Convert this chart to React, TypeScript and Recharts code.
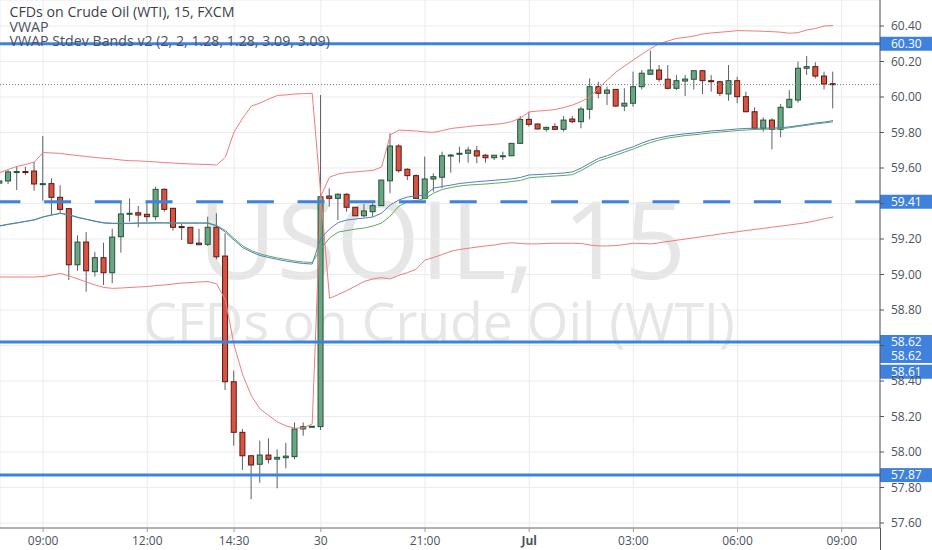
import React from 'react';
import { ComposedChart, Bar, Line, XAxis, YAxis, CartesianGrid, ReferenceLine } from 'recharts';

// 15-minute candles (index 0 .. 96)
const opens = [
  59.515, 59.527, 59.578, 59.580, 59.583, 59.512, 59.512, 59.435, 59.371, 59.055,
  59.183, 59.016, 59.095, 59.010, 59.213, 59.343, 59.348, 59.339, 59.326, 59.480,
  59.373, 59.270, 59.266, 59.177, 59.170, 59.266, 59.104, 58.396, 58.111, 57.979,
  57.931, 57.983, 57.960, 57.968, 57.974, 58.130, 58.144, 58.143, 59.442, 59.429,
  59.452, 59.379, 59.331, 59.354, 59.388, 59.528, 59.724, 59.593, 59.557, 59.429,
  59.538, 59.548, 59.672, 59.681, 59.683, 59.697, 59.672, 59.658, 59.667, 59.669,
  59.739, 59.874, 59.848, 59.818, 59.833, 59.818, 59.876, 59.861, 59.931, 60.058,
  60.021, 60.043, 59.949, 59.965, 60.058, 60.128, 60.152, 60.100, 60.049, 60.090,
  60.100, 60.148, 60.092, 60.086, 60.017, 60.092, 60.002, 59.917, 59.824, 59.870,
  59.818, 59.942, 59.983, 60.162, 60.171, 60.118, 60.075,
];
const highs = [
  59.533, 59.589, 59.607, 59.607, 59.635, 59.780, 59.542, 59.503, 59.373, 59.221,
  59.239, 59.127, 59.179, 59.258, 59.410, 59.429, 59.386, 59.414, 59.495, 59.486,
  59.375, 59.285, 59.268, 59.258, 59.326, 59.345, 59.232, 58.458, 58.130, 57.981,
  58.064, 58.077, 58.015, 58.052, 58.167, 58.167, 58.147, 60.011, 59.486, 59.458,
  59.458, 59.380, 59.397, 59.401, 59.534, 59.796, 59.734, 59.598, 59.565, 59.664,
  59.570, 59.692, 59.679, 59.720, 59.720, 59.724, 59.679, 59.673, 59.692, 59.741,
  59.893, 59.917, 59.850, 59.833, 59.852, 59.893, 59.893, 59.945, 60.105, 60.086,
  60.058, 60.044, 60.049, 60.143, 60.152, 60.261, 60.180, 60.180, 60.124, 60.124,
  60.152, 60.152, 60.124, 60.092, 60.180, 60.114, 60.030, 59.942, 59.886, 59.880,
  59.961, 60.039, 60.199, 60.231, 60.196, 60.143, 60.143,
];
const lows = [
  59.510, 59.510, 59.476, 59.561, 59.472, 59.416, 59.335, 59.341, 58.969, 59.021,
  58.903, 58.988, 58.941, 58.951, 59.123, 59.297, 59.266, 59.297, 59.307, 59.354,
  59.247, 59.194, 59.172, 59.165, 59.161, 59.086, 58.349, 58.036, 57.899, 57.734,
  57.827, 57.936, 57.796, 57.908, 57.959, 58.092, 58.141, 58.124, 59.382, 59.307,
  59.354, 59.329, 59.322, 59.326, 59.386, 59.458, 59.574, 59.532, 59.425, 59.424,
  59.467, 59.486, 59.574, 59.630, 59.630, 59.627, 59.630, 59.645, 59.645, 59.667,
  59.735, 59.833, 59.817, 59.805, 59.814, 59.805, 59.852, 59.824, 59.874, 59.993,
  59.955, 59.945, 59.921, 59.945, 60.043, 60.124, 60.086, 60.043, 60.039, 60.006,
  60.043, 60.017, 60.030, 60.006, 59.979, 59.965, 59.914, 59.818, 59.805, 59.705,
  59.773, 59.936, 59.968, 60.124, 60.105, 60.043, 59.936,
];
const closes = [
  59.527, 59.578, 59.580, 59.579, 59.510, 59.512, 59.435, 59.367, 59.055, 59.183,
  59.021, 59.095, 59.010, 59.211, 59.341, 59.345, 59.335, 59.326, 59.480, 59.367,
  59.266, 59.269, 59.176, 59.168, 59.266, 59.100, 58.396, 58.111, 57.979, 57.927,
  57.983, 57.959, 57.970, 57.977, 58.130, 58.143, 58.145, 59.438, 59.429, 59.452,
  59.379, 59.331, 59.358, 59.388, 59.532, 59.724, 59.585, 59.557, 59.429, 59.538,
  59.551, 59.669, 59.673, 59.683, 59.701, 59.668, 59.658, 59.672, 59.669, 59.739,
  59.874, 59.846, 59.820, 59.829, 59.818, 59.870, 59.861, 59.932, 60.058, 60.021,
  60.039, 59.949, 59.965, 60.058, 60.134, 60.152, 60.100, 60.049, 60.092, 60.101,
  60.148, 60.092, 60.086, 60.021, 60.092, 60.002, 59.917, 59.824, 59.870, 59.818,
  59.942, 59.987, 60.162, 60.171, 60.118, 60.073, 60.070,
];

// VWAP (blue) and bands' VWAP (green)
const vwapBlue = [
  59.273, 59.282, 59.290, 59.299, 59.307, 59.324, 59.335, 59.344, 59.335, 59.321,
  59.310, 59.299, 59.290, 59.287, 59.287, 59.287, 59.289, 59.289, 59.290, 59.290,
  59.289, 59.289, 59.289, 59.289, 59.289, 59.273, 59.239, 59.194, 59.152, 59.127,
  59.107, 59.096, 59.085, 59.076, 59.068, 59.062, 59.059, 59.206, 59.256, 59.293,
  59.307, 59.313, 59.318, 59.324, 59.346, 59.392, 59.420, 59.437, 59.442, 59.448,
  59.487, 59.496, 59.504, 59.513, 59.518, 59.523, 59.527, 59.531, 59.535, 59.539,
  59.547, 59.561, 59.563, 59.566, 59.569, 59.572, 59.578, 59.600, 59.628, 59.654,
  59.670, 59.687, 59.704, 59.720, 59.741, 59.758, 59.770, 59.780, 59.787, 59.793,
  59.797, 59.803, 59.809, 59.812, 59.816, 59.820, 59.823, 59.824, 59.825, 59.825,
  59.827, 59.832, 59.839, 59.846, 59.854, 59.859, 59.867,
];
const vwapGreen = [
  59.275, 59.284, 59.292, 59.300, 59.309, 59.325, 59.336, 59.345, 59.337, 59.323,
  59.312, 59.301, 59.292, 59.289, 59.289, 59.289, 59.291, 59.291, 59.292, 59.292,
  59.291, 59.291, 59.291, 59.291, 59.291, 59.276, 59.248, 59.203, 59.161, 59.135,
  59.116, 59.104, 59.093, 59.085, 59.076, 59.070, 59.068, 59.144, 59.206, 59.239,
  59.248, 59.256, 59.262, 59.273, 59.290, 59.330, 59.386, 59.409, 59.417, 59.428,
  59.459, 59.479, 59.490, 59.499, 59.504, 59.507, 59.510, 59.514, 59.518, 59.524,
  59.530, 59.545, 59.549, 59.552, 59.555, 59.558, 59.563, 59.586, 59.614, 59.640,
  59.656, 59.673, 59.690, 59.707, 59.727, 59.744, 59.758, 59.769, 59.776, 59.783,
  59.787, 59.793, 59.798, 59.803, 59.807, 59.811, 59.814, 59.817, 59.818, 59.820,
  59.821, 59.827, 59.834, 59.841, 59.848, 59.854, 59.860,
];
const upperBand = [
  59.574, 59.592, 59.609, 59.620, 59.634, 59.687, 59.685, 59.682, 59.676, 59.670,
  59.665, 59.659, 59.655, 59.651, 59.645, 59.641, 59.640, 59.637, 59.634, 59.631,
  59.628, 59.625, 59.623, 59.621, 59.620, 59.617, 59.662, 59.803, 59.882, 59.949,
  59.966, 59.989, 60.009, 60.012, 60.017, 60.019, 60.021, 59.442, 59.549, 59.566,
  59.575, 59.578, 59.583, 59.586, 59.606, 59.786, 59.814, 59.811, 59.809, 59.803,
  59.801, 59.811, 59.823, 59.828, 59.834, 59.839, 59.842, 59.846, 59.851, 59.862,
  59.882, 59.916, 59.921, 59.924, 59.930, 59.941, 59.955, 59.975, 60.000, 60.051,
  60.096, 60.141, 60.175, 60.209, 60.242, 60.273, 60.301, 60.316, 60.330, 60.336,
  60.344, 60.355, 60.361, 60.365, 60.369, 60.374, 60.373, 60.372, 60.370, 60.368,
  60.365, 60.359, 60.363, 60.378, 60.386, 60.400, 60.403,
];
const lowerBand = [
  58.986, 58.986, 58.986, 58.986, 58.986, 58.989, 58.997, 59.006, 58.992, 58.975,
  58.958, 58.941, 58.927, 58.922, 58.924, 58.927, 58.930, 58.932, 58.938, 58.941,
  58.947, 58.952, 58.955, 58.958, 58.960, 58.947, 58.856, 58.603, 58.434, 58.316,
  58.242, 58.206, 58.169, 58.147, 58.134, 58.137, 58.158, 59.442, 58.866, 58.887,
  58.910, 58.935, 58.961, 58.975, 58.983, 58.975, 58.996, 59.011, 59.031, 59.082,
  59.096, 59.113, 59.131, 59.141, 59.148, 59.155, 59.161, 59.166, 59.175, 59.179,
  59.175, 59.172, 59.173, 59.175, 59.176, 59.176, 59.176, 59.175, 59.166, 59.161,
  59.161, 59.163, 59.169, 59.176, 59.175, 59.172, 59.179, 59.186, 59.193, 59.200,
  59.207, 59.214, 59.221, 59.228, 59.235, 59.241, 59.248, 59.254, 59.260, 59.267,
  59.273, 59.279, 59.286, 59.293, 59.303, 59.314, 59.324,
];

const timeTicks = [5, 17, 27, 37, 49, 61, 73, 85, 97];
const timeLabels = ['09:00', '12:00', '14:30', '30', '21:00', 'Jul', '03:00', '06:00', '09:00'];
const priceTicks = [57.6, 57.8, 58.0, 58.2, 58.4, 58.6, 58.8, 59.0, 59.2, 59.4, 59.6, 59.8, 60.0, 60.2, 60.4];

// horizontal drawings
const solidLevels = [60.3, 58.62, 57.87];
const dashedLevels = [59.41];
const tagValues = [60.3, 59.41, 58.62, 58.62, 58.61, 57.87];
const tagSlots = [0, 0, 0, 1, 2, 0];

const legendLines = [
  'CFDs on Crude Oil (WTI), 15, FXCM',
  'VWAP',
  'VWAP Stdev Bands v2 (2, 2, 1.28, 1.28, 3.09, 3.09)',
];

const rows = opens.map((o, i) => ({
  i,
  o,
  h: highs[i],
  l: lows[i],
  c: closes[i],
  range: [lows[i], highs[i]],
  vb: vwapBlue[i],
  vg: vwapGreen[i],
  ub: upperBand[i],
  lb: lowerBand[i],
}));

const FONT = '"Open Sans", "DejaVu Sans", sans-serif';
const LEVEL_BLUE = '#3f82de';
const Y_MIN = 57.572;
const Y_MAX = 60.5465;
const PLOT_H = 528;
const TAG_H = 14;
const PX_PER_PRICE = PLOT_H / (Y_MAX - Y_MIN);

const Candle = (props: any) => {
  const { x, y, width, height, payload } = props;
  if (x == null || y == null || !payload) return null;
  const top = Math.min(y, y + height);
  const bot = Math.max(y, y + height);
  const { o, h, l, c } = payload;
  const span = h - l;
  const py = (p: number) => (span > 0 ? top + ((h - p) / span) * (bot - top) : top);
  const cx = x + width / 2;
  const up = c >= o;
  const bTop = py(Math.max(o, c));
  const bBot = py(Math.min(o, c));
  const bh = Math.max(1, bBot - bTop);
  return (
    <g>
      <line x1={cx} x2={cx} y1={top} y2={Math.max(bot, top + 1)} stroke="#5d606b" strokeWidth={1} />
      <rect
        x={x + 0.5}
        y={bTop}
        width={width - 1}
        height={bh}
        fill={up ? '#6ba583' : '#d75442'}
        stroke={up ? '#225437' : '#5b1a13'}
        strokeWidth={1}
      />
    </g>
  );
};

const TimeTick = (props: any) => {
  const { x, y, payload } = props;
  const idx = timeTicks.indexOf(payload.value);
  const label = idx >= 0 ? timeLabels[idx] : '';
  return (
    <text
      x={x}
      y={y}
      dy="0.71em"
      textAnchor="middle"
      fontSize={12}
      fill="#4c525e"
      fontFamily={FONT}
      fontWeight={label === 'Jul' ? 700 : 400}
    >
      {label}
    </text>
  );
};

// price labels that sit under a level tag are hidden by it
const isCovered = (v: number) =>
  tagValues.some((t, k) => Math.abs((t - v) * PX_PER_PRICE - tagSlots[k] * TAG_H) < TAG_H / 2 + 2);

const PriceTick = (props: any) => {
  const { x, y, payload } = props;
  const v = payload.value as number;
  if (isCovered(v)) return null;
  return (
    <text x={x} y={y} dy="0.36em" textAnchor="start" fontSize={12} fill="#4c525e" fontFamily={FONT}>
      {v.toFixed(2)}
    </text>
  );
};

const makeTag = (text: string, slot: number) => (p: any) => {
  const vb = p.viewBox || {};
  const x = (vb.x || 0) + (vb.width || 0);
  const y = (vb.y || 0) + slot * TAG_H;
  return (
    <g>
      <rect x={x} y={y - TAG_H / 2} width={52} height={TAG_H} fill={LEVEL_BLUE} />
      <text x={x + 11} y={y} dy="0.36em" fontSize={12} fill="#ffffff" fontFamily={FONT}>
        {text}
      </text>
    </g>
  );
};

export default function App() {
  const lastClose = closes[closes.length - 1];
  return (
    <div style={{ position: 'absolute', left: 0, top: 0, width: 932, height: 550, background: '#ffffff', fontFamily: FONT }}>
      <svg width={932} height={550} style={{ position: 'absolute', left: 0, top: 0 }}>
        <text x={442} y={279} textAnchor="middle" fontSize={108} fill="#e6e6e6" fontFamily={FONT}>
          USOIL, 15
        </text>
        <text x={439} y={341} textAnchor="middle" fontSize={53.5} fill="#e6e6e6" fontFamily={FONT}>
          CFDs on Crude Oil (WTI)
        </text>
      </svg>
      <div style={{ position: 'absolute', left: 0, top: 0 }}>
        <ComposedChart
          width={932}
          height={550}
          data={rows}
          margin={{ top: 0, right: 0, bottom: 0, left: 0 }}
          style={{ fontFamily: FONT }}
        >
          <CartesianGrid stroke="#ebebeb" strokeWidth={1} />
          <XAxis
            dataKey="i"
            type="number"
            domain={[0.035, 101.41]}
            allowDataOverflow
            ticks={timeTicks}
            tick={<TimeTick />}
            tickSize={4}
            tickMargin={4}
            height={22}
            axisLine={{ stroke: '#9a9a9a', strokeWidth: 1.5 }}
            tickLine={{ stroke: '#9a9a9a' }}
            interval={0}
          />
          <YAxis
            orientation="right"
            type="number"
            domain={[Y_MIN, Y_MAX]}
            allowDataOverflow
            ticks={priceTicks}
            tick={<PriceTick />}
            tickSize={4}
            tickMargin={7}
            width={52}
            axisLine={{ stroke: '#555555', strokeWidth: 1 }}
            tickLine={{ stroke: '#555555' }}
            interval={0}
          />
          <Line dataKey="ub" type="linear" stroke="#f07c7c" strokeWidth={1} dot={false} isAnimationActive={false} />
          <Line dataKey="lb" type="linear" stroke="#f07c7c" strokeWidth={1} dot={false} isAnimationActive={false} />
          <Line dataKey="vg" type="linear" stroke="#5cab5c" strokeWidth={1} dot={false} isAnimationActive={false} />
          <Line dataKey="vb" type="linear" stroke="#4f7fbf" strokeWidth={1} dot={false} isAnimationActive={false} />
          <Bar dataKey="range" barSize={6} shape={<Candle />} isAnimationActive={false} />
          <ReferenceLine y={lastClose} stroke="#7a7a7a" strokeWidth={1} strokeDasharray="1 2" />
          {solidLevels.map((v, k) => (
            <ReferenceLine key={'s' + k} y={v} stroke={LEVEL_BLUE} strokeWidth={3} />
          ))}
          {dashedLevels.map((v, k) => (
            <ReferenceLine
              key={'d' + k}
              y={v}
              stroke={LEVEL_BLUE}
              strokeWidth={3}
              strokeDasharray="27 23.7"
              strokeDashoffset={2.3}
            />
          ))}
          {tagValues.map((v, k) => (
            <ReferenceLine
              key={'t' + k}
              y={v}
              stroke="none"
              label={makeTag(v.toFixed(2), tagSlots[k])}
            />
          ))}
        </ComposedChart>
      </div>
      <svg width={932} height={550} style={{ position: 'absolute', left: 0, top: 0, pointerEvents: 'none' }}>
        <line x1={880.5} x2={880.5} y1={528} y2={550} stroke="#555555" strokeWidth={1} />
        {legendLines.map((t, k) => (
          <text key={k} x={9.5} y={17 + k * 14.5} fontSize={14.2} fill={k === 0 ? '#3d4048' : '#4c525e'} fontFamily={FONT}>
            {t}
          </text>
        ))}
      </svg>
    </div>
  );
}
